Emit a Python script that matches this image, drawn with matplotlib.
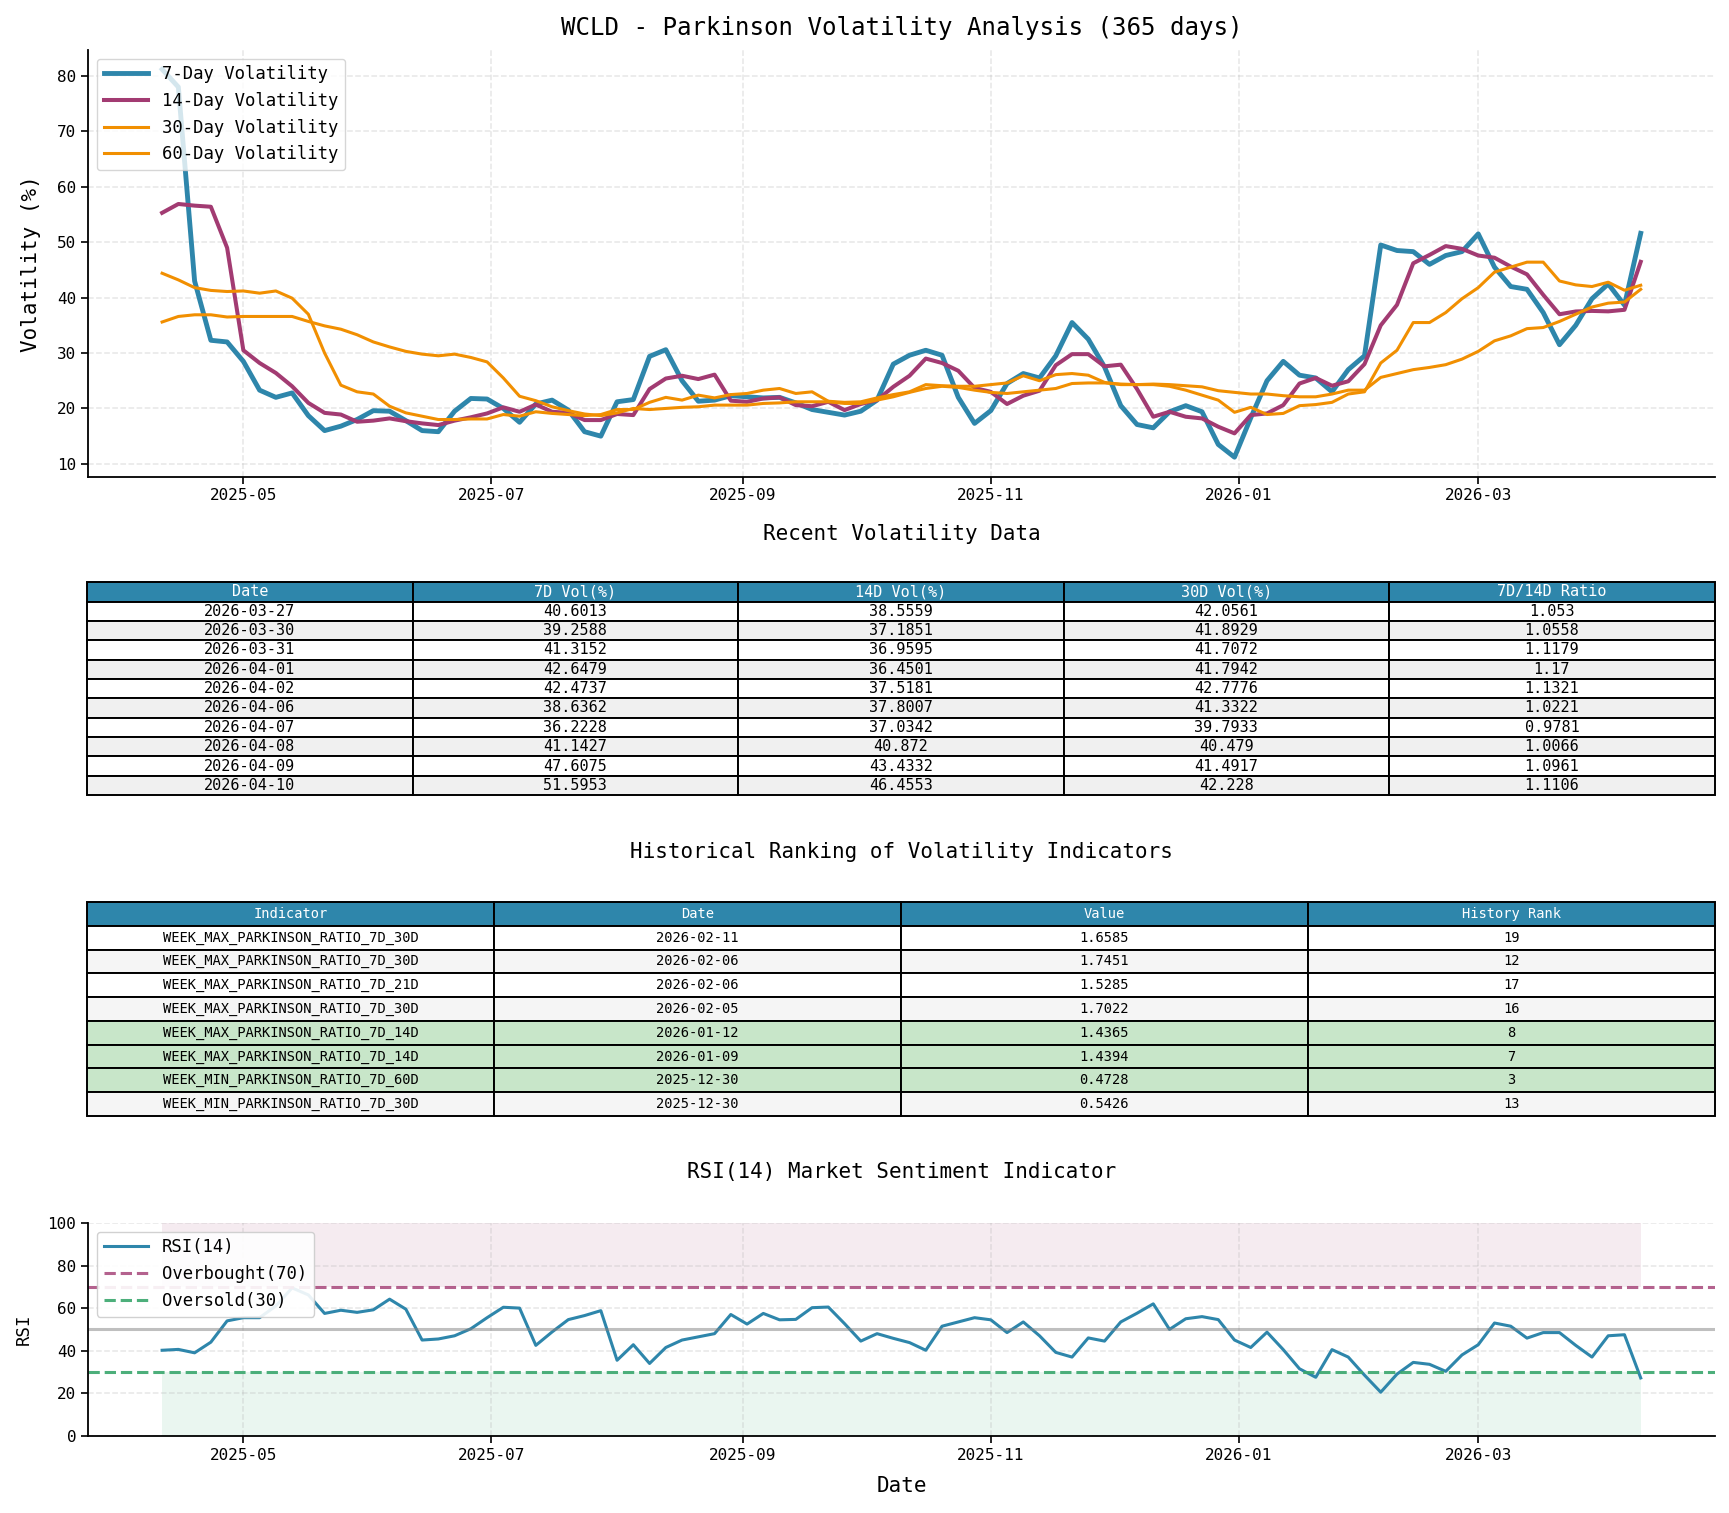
import pandas as pd
import matplotlib
matplotlib.use('Agg')
import matplotlib.pyplot as plt
import matplotlib.dates as mdates

plt.rcParams['font.family'] = ['DejaVu Sans Mono']

dates = pd.date_range(end='2026-04-10', periods=92, freq='4D')

vol_7d = [81.2, 78.0, 43.0, 32.3, 32.0, 28.5, 23.3, 22.0, 22.8, 18.7,
          16.0, 16.8, 18.0, 19.6, 19.5, 17.8, 16.0, 15.8, 19.5, 21.8,
          21.7, 20.0, 17.5, 20.8, 21.5, 19.7, 15.8, 15.0, 21.2, 21.6,
          29.4, 30.6, 25.0, 21.3, 21.5, 22.3, 22.1, 21.9, 22.0, 21.0,
          19.8, 19.3, 18.8, 19.5, 21.5, 28.0, 29.6, 30.5, 29.6, 22.0,
          17.3, 19.6, 24.5, 26.3, 25.5, 29.5, 35.5, 32.5, 27.5, 20.5,
          17.1, 16.5, 19.4, 20.5, 19.4, 13.5, 11.2, 18.3, 25.0, 28.5,
          26.0, 25.5, 23.0, 27.0, 29.5, 49.5, 48.5, 48.3, 46.0, 47.6,
          48.3, 51.5, 45.5, 42.0, 41.5, 37.3, 31.5, 35.0, 39.8, 42.47,
          38.64, 51.60]

vol_14d = [55.3, 56.9, 56.6, 56.4, 49.0, 30.5, 28.2, 26.4, 24.0, 21.0,
           19.2, 18.9, 17.6, 17.8, 18.2, 17.7, 17.3, 17.0, 17.8, 18.4,
           19.1, 20.2, 19.4, 20.7, 19.4, 19.2, 17.9, 17.9, 19.0, 18.8,
           23.5, 25.4, 25.9, 25.3, 26.1, 21.4, 21.2, 21.8, 22.0, 20.6,
           20.4, 21.2, 19.7, 20.8, 21.5, 23.9, 25.9, 29.0, 28.2, 26.8,
           23.7, 23.0, 20.8, 22.3, 23.2, 27.8, 29.8, 29.8, 27.6, 27.9,
           23.5, 18.5, 19.4, 18.5, 18.2, 16.7, 15.5, 18.8, 19.1, 20.6,
           24.5, 25.5, 24.1, 24.9, 28.0, 35.0, 38.7, 46.2, 47.7, 49.3,
           48.8, 47.6, 47.2, 45.6, 44.2, 40.5, 37.0, 37.5, 37.6, 37.52,
           37.80, 46.46]

vol_30d = [44.4, 43.2, 41.8, 41.3, 41.1, 41.2, 40.8, 41.2, 39.9, 37.0,
           30.0, 24.2, 23.0, 22.6, 20.4, 19.2, 18.6, 18.0, 18.0, 18.1,
           18.1, 18.9, 18.6, 19.4, 19.1, 18.9, 18.7, 18.9, 19.8, 19.8,
           21.1, 22.0, 21.5, 22.4, 21.9, 22.5, 22.7, 23.3, 23.6, 22.7,
           23.0, 21.3, 21.1, 21.2, 21.9, 22.5, 23.0, 24.3, 24.1, 24.0,
           24.0, 24.3, 24.6, 25.9, 25.0, 26.1, 26.3, 26.0, 24.7, 24.3,
           24.3, 24.3, 24.0, 23.3, 22.4, 21.5, 19.3, 20.2, 18.9, 19.1,
           20.5, 20.7, 21.1, 22.6, 23.0, 28.2, 30.5, 35.5, 35.5, 37.3,
           39.8, 41.8, 44.6, 45.5, 46.4, 46.4, 43.0, 42.3, 42.0, 42.78,
           41.33, 42.23]

vol_60d = [35.6, 36.6, 36.9, 36.9, 36.5, 36.6, 36.6, 36.6, 36.6, 35.7,
           34.9, 34.3, 33.3, 32.0, 31.1, 30.3, 29.8, 29.5, 29.8, 29.2,
           28.4, 25.5, 22.2, 21.4, 20.3, 19.6, 19.0, 18.7, 19.2, 20.0,
           19.8, 20.0, 20.2, 20.3, 20.6, 20.6, 20.6, 20.9, 21.0, 21.2,
           21.2, 21.2, 20.9, 20.9, 21.5, 22.1, 22.9, 23.6, 24.0, 23.8,
           23.3, 22.9, 22.7, 23.0, 23.3, 23.6, 24.5, 24.6, 24.6, 24.4,
           24.3, 24.4, 24.3, 24.1, 23.9, 23.2, 22.9, 22.6, 22.6, 22.3,
           22.1, 22.1, 22.6, 23.3, 23.3, 25.6, 26.3, 27.0, 27.4, 27.9,
           28.9, 30.3, 32.2, 33.1, 34.4, 34.6, 35.7, 37.0, 38.3, 39.0,
           39.2, 41.5]

rsi_14 = [40.2, 40.6, 39.0, 44.0, 54.0, 55.5, 55.5, 61.0, 69.5, 66.2,
          57.5, 59.0, 58.0, 59.2, 64.2, 59.5, 45.0, 45.5, 47.0, 50.3,
          55.5, 60.4, 60.0, 42.5, 48.8, 54.6, 56.5, 58.8, 35.5, 42.8,
          34.0, 41.5, 45.0, 46.5, 48.0, 57.0, 52.5, 57.5, 54.5, 54.7,
          60.2, 60.5, 52.7, 44.5, 48.0, 45.8, 43.8, 40.2, 51.5, 53.5,
          55.5, 54.5, 48.5, 53.5, 47.0, 39.2, 37.0, 46.0, 44.5, 53.5,
          57.6, 62.0, 50.0, 55.0, 56.0, 54.6, 45.0, 41.5, 48.7, 40.5,
          31.5, 27.5, 40.5, 37.0, 28.5, 20.5, 29.0, 34.5, 33.6, 30.3,
          38.0, 42.8, 53.0, 51.5, 45.9, 48.5, 48.5, 42.5, 37.0, 47.0,
          47.5, 27.2]

# recent volatility table
recent_dates = ['2026-03-27', '2026-03-30', '2026-03-31', '2026-04-01', '2026-04-02',
                '2026-04-06', '2026-04-07', '2026-04-08', '2026-04-09', '2026-04-10']
recent_7d = [40.6013, 39.2588, 41.3152, 42.6479, 42.4737, 38.6362, 36.2228, 41.1427, 47.6075, 51.5953]
recent_14d = [38.5559, 37.1851, 36.9595, 36.4501, 37.5181, 37.8007, 37.0342, 40.872, 43.4332, 46.4553]
recent_30d = [42.0561, 41.8929, 41.7072, 41.7942, 42.7776, 41.3322, 39.7933, 40.479, 41.4917, 42.228]
recent_ratio = [1.053, 1.0558, 1.1179, 1.17, 1.1321, 1.0221, 0.9781, 1.0066, 1.0961, 1.1106]

# historical ranking table
rank_indicator = ['WEEK_MAX_PARKINSON_RATIO_7D_30D', 'WEEK_MAX_PARKINSON_RATIO_7D_30D',
                  'WEEK_MAX_PARKINSON_RATIO_7D_21D', 'WEEK_MAX_PARKINSON_RATIO_7D_30D',
                  'WEEK_MAX_PARKINSON_RATIO_7D_14D', 'WEEK_MAX_PARKINSON_RATIO_7D_14D',
                  'WEEK_MIN_PARKINSON_RATIO_7D_60D', 'WEEK_MIN_PARKINSON_RATIO_7D_30D']
rank_date = ['2026-02-11', '2026-02-06', '2026-02-06', '2026-02-05',
             '2026-01-12', '2026-01-09', '2025-12-30', '2025-12-30']
rank_value = [1.6585, 1.7451, 1.5285, 1.7022, 1.4365, 1.4394, 0.4728, 0.5426]
rank_pos = [19, 12, 17, 16, 8, 7, 3, 13]

BLUE = '#2E86AB'
MAGENTA = '#A23B72'
ORANGE = '#F18F01'
GREEN = '#3AA76D'


def style_axis(ax):
    for side in ('top', 'right'):
        ax.spines[side].set_visible(False)
    for side in ('left', 'bottom'):
        ax.spines[side].set_linewidth(1.3)
    ax.tick_params(labelsize=11.5, length=5, width=1.2)
    ax.grid(True, linestyle='--', linewidth=1.1, alpha=0.3)
    ax.xaxis.set_major_locator(mdates.MonthLocator(bymonth=(1, 3, 5, 7, 9, 11)))
    ax.xaxis.set_major_formatter(mdates.DateFormatter('%Y-%m'))


def draw_table(ax, rows, labels, fontsize, row_colors):
    ax.axis('off')
    tab = ax.table(cellText=rows, colLabels=labels, cellLoc='center', bbox=[0, 0, 1, 1])
    tab.auto_set_font_size(False)
    tab.set_fontsize(fontsize)
    for (r, c), cell in tab.get_celld().items():
        cell.set_edgecolor('black')
        cell.set_linewidth(1.4)
        if r == 0:
            cell.set_facecolor(BLUE)
            cell.get_text().set_color('white')
        else:
            cell.set_facecolor(row_colors[r - 1])
    return tab


fig = plt.figure(figsize=(17.29, 15.13), dpi=100)

# volatility lines
ax1 = fig.add_axes([0.051, 0.685, 0.9407, 0.282])
ax1.plot(dates, vol_7d, color=BLUE, lw=3.5, label='7-Day Volatility')
ax1.plot(dates, vol_14d, color=MAGENTA, lw=2.9, label='14-Day Volatility')
ax1.plot(dates, vol_30d, color=ORANGE, lw=2.2, label='30-Day Volatility')
ax1.plot(dates, vol_60d, color=ORANGE, lw=2.2, label='60-Day Volatility')
style_axis(ax1)
ax1.set_ylabel('Volatility (%)', fontsize=15)
ax1.yaxis.set_label_coords(-0.029, 0.5)
ax1.legend(loc='upper left', fontsize=12.4, handlelength=2.6, framealpha=0.8)
fig.text(0.5214, 1 - 25 / 1372, 'WCLD - Parkinson Volatility Analysis (365 days)',
         ha='center', va='center', fontsize=17.4)

# recent data table
ax_t1 = fig.add_axes([0.0504, 0.4745, 0.9413, 0.1407])
rows1 = [[d, str(a), str(b), str(c), str(r)]
         for d, a, b, c, r in zip(recent_dates, recent_7d, recent_14d, recent_30d, recent_ratio)]
colors1 = ['white' if i % 2 == 0 else '#f0f0f0' for i in range(len(rows1))]
draw_table(ax_t1, rows1, ['Date', '7D Vol(%)', '14D Vol(%)', '30D Vol(%)', '7D/14D Ratio'],
           10.9, colors1)
fig.text(0.5214, 1 - 484 / 1372, 'Recent Volatility Data', ha='center', va='center', fontsize=15)

# ranking table
ax_t2 = fig.add_axes([0.0504, 0.2624, 0.9413, 0.1414])
rows2 = [[n, d, str(v), str(p)] for n, d, v, p in zip(rank_indicator, rank_date, rank_value, rank_pos)]
colors2 = []
for i, p in enumerate(rank_pos):
    if p <= 10:
        colors2.append('#c8e6c9')
    else:
        colors2.append('white' if i % 2 == 0 else '#f5f5f5')
draw_table(ax_t2, rows2, ['Indicator', 'Date', 'Value', 'History Rank'], 9.9, colors2)
fig.text(0.5214, 1 - 773 / 1372, 'Historical Ranking of Volatility Indicators',
         ha='center', va='center', fontsize=15)

# RSI
ax3 = fig.add_axes([0.051, 0.051, 0.9407, 0.1407])
ax3.fill_between(dates, 70, 100, color=MAGENTA, alpha=0.1, lw=0)
ax3.fill_between(dates, 0, 30, color=GREEN, alpha=0.1, lw=0)
ax3.plot(dates, rsi_14, color=BLUE, lw=2.2, label='RSI(14)')
ax3.axhline(70, color=MAGENTA, ls='--', lw=2.2, alpha=0.8, label='Overbought(70)')
ax3.axhline(30, color=GREEN, ls='--', lw=2.2, alpha=0.9, label='Oversold(30)')
ax3.axhline(50, color='gray', lw=2.2, alpha=0.5)
style_axis(ax3)
ax3.set_ylim(0, 100)
ax3.set_yticks([0, 20, 40, 60, 80, 100])
ax3.set_ylabel('RSI', fontsize=12.5)
ax3.yaxis.set_label_coords(-0.034, 0.5)
ax3.set_xlabel('Date', fontsize=15)
ax3.xaxis.set_label_coords(0.5, -0.19)
ax3.legend(loc='upper left', fontsize=12.4, handlelength=2.6, framealpha=0.9)
fig.text(0.5214, 1 - 1063 / 1372, 'RSI(14) Market Sentiment Indicator',
         ha='center', va='center', fontsize=15)

fig.savefig('out.png', dpi=100)
